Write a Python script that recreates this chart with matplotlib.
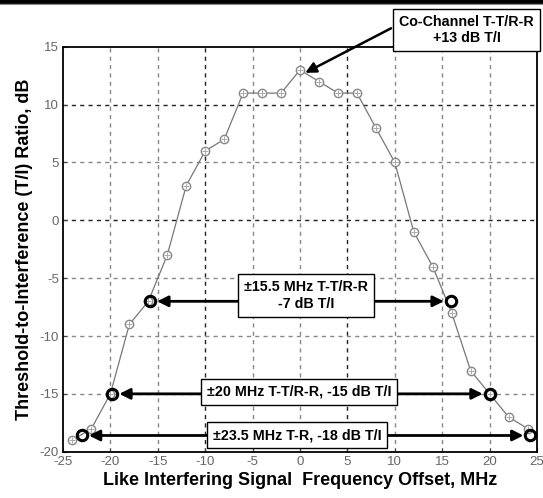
import matplotlib
matplotlib.use("Agg")
import matplotlib.pyplot as plt
from matplotlib.lines import Line2D

offset_mhz = [-24, -22, -20, -18, -16, -14, -12, -10, -8, -6, -4, -2, 0,
              2, 4, 6, 8, 10, 12, 14, 16, 18, 20, 22, 24]
ti_db = [-19, -18, -15, -9, -7, -3, 3, 6, 7, 11, 11, 11, 13,
         12, 11, 11, 8, 5, -1, -4, -8, -13, -15, -17, -18]

marked_x = [-15.8, 15.9, -19.8, 20.0, -23.0, 24.3]
marked_y = [-7, -7, -15, -15, -18.6, -18.6]

xticks = [-25, -20, -15, -10, -5, 0, 5, 10, 15, 20, 25]
yticks = [-20, -15, -10, -5, 0, 5, 10, 15]

box_texts = ["\u00b115.5 MHz T-T/R-R\n-7 dB T/I",
             "\u00b120 MHz T-T/R-R, -15 dB T/I",
             "\u00b123.5 MHz T-R, -18 dB T/I"]
box_pos = [(0.6, -6.5), (-0.1, -14.8), (-0.3, -18.6)]
box_edges = [(-6.5, 7.7), (-10.4, 10.1), (-9.7, 9.2)]
cochan_text = "Co-Channel T-T/R-R\n+13 dB T/I"
cochan_pos = (17.6, 16.45)

plt.rcParams['font.family'] = ['Liberation Sans', 'DejaVu Sans']

fig = plt.figure(figsize=(5.43, 4.98), dpi=100)
ax = fig.add_axes([0.116, 0.093, 0.873, 0.813])

ax.set_xlim(-25, 25)
ax.set_ylim(-20, 15)
ax.set_xticks(xticks)
ax.set_xticklabels([str(v) for v in xticks])
ax.set_yticks(yticks)
ax.set_yticklabels([str(v) for v in yticks])
ax.tick_params(direction='in', length=3, labelsize=9.5, labelcolor='#666666',
               colors='#444444', pad=3)
for lbl in ax.get_xticklabels() + ax.get_yticklabels():
    lbl.set_color('#666666')
for s in ax.spines.values():
    s.set_color('black')
    s.set_linewidth(1.3)

dark_x = [-10, 5]
dark_y = [10, 0]
for xv in xticks[1:-1]:
    c = '#222222' if xv in dark_x else '#888888'
    ax.axvline(xv, color=c, ls=(0, (3, 3)), lw=1.0, zorder=0)
for yv in yticks[1:-1]:
    c = '#222222' if yv in dark_y else '#888888'
    ax.axhline(yv, color=c, ls=(0, (3, 3)), lw=1.0, zorder=0)

ax.plot(offset_mhz, ti_db, color='#777777', lw=0.9, marker='o',
        markersize=6, markerfacecolor='white', markeredgecolor='#888888',
        markeredgewidth=1.0, zorder=3)
ax.plot(offset_mhz, ti_db, ls='none', marker='+', markersize=4,
        markeredgecolor='#aaaaaa', markeredgewidth=0.7, zorder=4)

ax.plot(marked_x, marked_y, ls='none', marker='o', markersize=7.5,
        markerfacecolor='none', markeredgecolor='black', markeredgewidth=2.2,
        zorder=5)

arrow_kw = dict(arrowstyle='-|>', color='black', lw=2.0, mutation_scale=16,
                shrinkA=0, shrinkB=5)
for i, (txt, (bx, by), (le, re)) in enumerate(zip(box_texts, box_pos, box_edges)):
    ly = marked_y[2 * i]
    ax.annotate('', xy=(marked_x[2 * i], ly), xytext=(le, ly),
                arrowprops=arrow_kw, zorder=6)
    ax.annotate('', xy=(marked_x[2 * i + 1], ly), xytext=(re, ly),
                arrowprops=arrow_kw, zorder=6)
    ax.text(bx, by, txt, ha='center', va='center', fontsize=10.3,
            fontweight='bold', linespacing=1.25, zorder=7,
            bbox=dict(boxstyle='square,pad=0.42', fc='white', ec='black', lw=1.0))

ax.annotate('', xy=(0.55, 12.75), xytext=(9.6, 16.6),
            arrowprops=dict(arrowstyle='-|>', color='black', lw=1.8,
                            mutation_scale=16, shrinkA=0, shrinkB=0),
            annotation_clip=False, zorder=6)
ax.text(cochan_pos[0], cochan_pos[1], cochan_text, ha='center', va='center',
        fontsize=10.3, fontweight='bold', linespacing=1.25, zorder=7, clip_on=False,
        bbox=dict(boxstyle='square,pad=0.42', fc='white', ec='black', lw=1.0))

ax.set_xlabel("Like Interfering Signal  Frequency Offset, MHz", fontsize=13,
              fontweight='bold', labelpad=3)
ax.set_ylabel("Threshold-to-Interference (T/I) Ratio, dB", fontsize=13,
              fontweight='bold', labelpad=5)

fig.add_artist(Line2D([0, 1], [0.997, 0.997], transform=fig.transFigure,
                      color='black', lw=3.5))
fig.add_artist(Line2D([0, 1], [0.991, 0.991], transform=fig.transFigure,
                      color='#888888', lw=0.8))

fig.savefig("out.png", dpi=100)
